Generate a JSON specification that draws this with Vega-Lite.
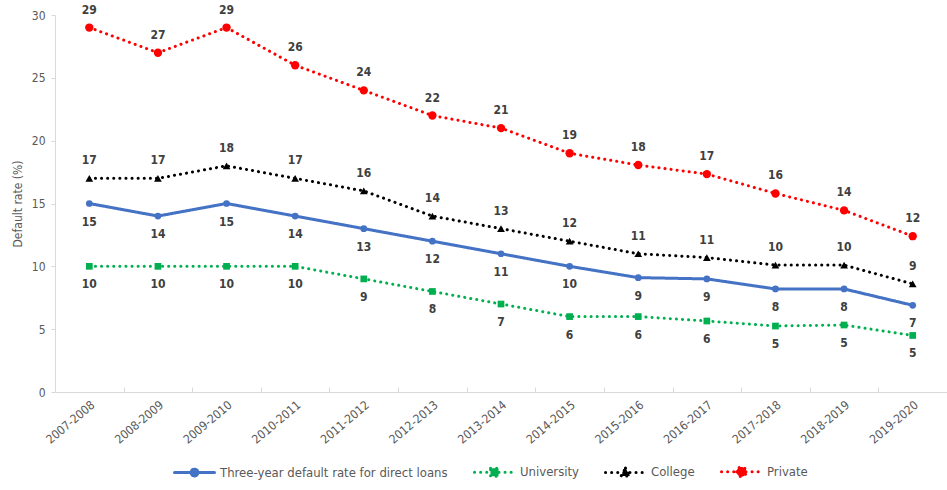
{
  "$schema": "https://vega.github.io/schema/vega-lite/v6.json",
  "width": 892,
  "height": 377,
  "autosize": "none",
  "padding": {"left": 55, "top": 15, "right": 0, "bottom": 98},
  "background": "white",
  "config": {
    "view": {"stroke": null},
    "font": "DejaVu Sans Condensed, Liberation Sans, sans-serif"
  },
  "data": {
    "values": [
      {"year": "2007-2008", "series": "Three-year default rate for direct loans", "value": 15},
      {"year": "2008-2009", "series": "Three-year default rate for direct loans", "value": 14},
      {"year": "2009-2010", "series": "Three-year default rate for direct loans", "value": 15},
      {"year": "2010-2011", "series": "Three-year default rate for direct loans", "value": 14},
      {"year": "2011-2012", "series": "Three-year default rate for direct loans", "value": 13},
      {"year": "2012-2013", "series": "Three-year default rate for direct loans", "value": 12},
      {"year": "2013-2014", "series": "Three-year default rate for direct loans", "value": 11},
      {"year": "2014-2015", "series": "Three-year default rate for direct loans", "value": 10},
      {"year": "2015-2016", "series": "Three-year default rate for direct loans", "value": 9.1},
      {"year": "2016-2017", "series": "Three-year default rate for direct loans", "value": 9.0},
      {"year": "2017-2018", "series": "Three-year default rate for direct loans", "value": 8.2},
      {"year": "2018-2019", "series": "Three-year default rate for direct loans", "value": 8.2},
      {"year": "2019-2020", "series": "Three-year default rate for direct loans", "value": 6.9},
      {"year": "2007-2008", "series": "University", "value": 10},
      {"year": "2008-2009", "series": "University", "value": 10},
      {"year": "2009-2010", "series": "University", "value": 10},
      {"year": "2010-2011", "series": "University", "value": 10},
      {"year": "2011-2012", "series": "University", "value": 9},
      {"year": "2012-2013", "series": "University", "value": 8},
      {"year": "2013-2014", "series": "University", "value": 7},
      {"year": "2014-2015", "series": "University", "value": 6},
      {"year": "2015-2016", "series": "University", "value": 6},
      {"year": "2016-2017", "series": "University", "value": 5.65},
      {"year": "2017-2018", "series": "University", "value": 5.25},
      {"year": "2018-2019", "series": "University", "value": 5.33},
      {"year": "2019-2020", "series": "University", "value": 4.5},
      {"year": "2007-2008", "series": "College", "value": 17},
      {"year": "2008-2009", "series": "College", "value": 17},
      {"year": "2009-2010", "series": "College", "value": 18},
      {"year": "2010-2011", "series": "College", "value": 17},
      {"year": "2011-2012", "series": "College", "value": 16},
      {"year": "2012-2013", "series": "College", "value": 14},
      {"year": "2013-2014", "series": "College", "value": 13},
      {"year": "2014-2015", "series": "College", "value": 12},
      {"year": "2015-2016", "series": "College", "value": 11},
      {"year": "2016-2017", "series": "College", "value": 10.7},
      {"year": "2017-2018", "series": "College", "value": 10.1},
      {"year": "2018-2019", "series": "College", "value": 10.1},
      {"year": "2019-2020", "series": "College", "value": 8.6},
      {"year": "2007-2008", "series": "Private", "value": 29},
      {"year": "2008-2009", "series": "Private", "value": 27},
      {"year": "2009-2010", "series": "Private", "value": 29},
      {"year": "2010-2011", "series": "Private", "value": 26},
      {"year": "2011-2012", "series": "Private", "value": 24},
      {"year": "2012-2013", "series": "Private", "value": 22},
      {"year": "2013-2014", "series": "Private", "value": 21},
      {"year": "2014-2015", "series": "Private", "value": 19},
      {"year": "2015-2016", "series": "Private", "value": 18.06},
      {"year": "2016-2017", "series": "Private", "value": 17.34},
      {"year": "2017-2018", "series": "Private", "value": 15.8},
      {"year": "2018-2019", "series": "Private", "value": 14.45},
      {"year": "2019-2020", "series": "Private", "value": 12.4}
    ]
  },
  "encoding": {
    "x": {
      "field": "year",
      "type": "nominal",
      "sort": null,
      "scale": {"paddingInner": 0, "paddingOuter": 0},
      "axis": {
        "title": null,
        "labelAngle": -40,
        "labelFontSize": 12,
        "labelColor": "#595959",
        "labelAlign": "right",
        "labelBaseline": "top",
        "tickBand": "extent",
        "tickColor": "#d9d9d9",
        "tickSize": -5,
        "domainColor": "#d9d9d9",
        "labelPadding": 12
      }
    },
    "y": {
      "field": "value",
      "type": "quantitative",
      "scale": {"domain": [0, 30], "nice": false},
      "axis": {
        "title": "Default rate (%)",
        "titleFontWeight": "normal",
        "titleFontSize": 12,
        "titleColor": "#595959",
        "titlePadding": 7,
        "values": [0, 5, 10, 15, 20, 25, 30],
        "labelFontSize": 12,
        "labelColor": "#595959",
        "grid": false,
        "tickColor": "#d9d9d9",
        "tickSize": 4,
        "domainColor": "#d9d9d9",
        "labelPadding": 6
      }
    }
  },
  "layer": [
    {
      "mark": {"type": "line", "strokeWidth": 3, "strokeCap": "round"},
      "encoding": {
        "color": {
          "field": "series",
          "type": "nominal",
          "scale": {
            "domain": ["Three-year default rate for direct loans", "University", "College", "Private"],
            "range": ["#4472C4", "#00B050", "#000000", "#FF0000"]
          },
          "legend": {
            "title": null,
            "orient": "none",
            "legendX": 118,
            "legendY": 435,
            "direction": "horizontal",
            "labelFontSize": 13,
            "labelColor": "#595959",
            "symbolSize": 1600,
            "symbolStrokeWidth": 3,
            "columnPadding": 20,
            "labelOffset": 4,
            "labelLimit": 400,
            "encode": {
              "symbols": {
                "update": {
                  "shape": {"signal": "datum.value === 'University' ? 'M-1,0L1,0M-0.2,-0.2L0.2,-0.2L0.2,0.2L-0.2,0.2Z' : datum.value === 'College' ? 'M-1,0L1,0M0,-0.22L0.22,0.18L-0.22,0.18Z' : datum.value === 'Private' ? 'M-1,0L1,0M-0.24,0A0.24,0.24 0 1,0 0.24,0A0.24,0.24 0 1,0 -0.24,0Z' : 'M-1,0L1,0M-0.17,0A0.17,0.17 0 1,0 0.17,0A0.17,0.17 0 1,0 -0.17,0Z'"},
                  "size": {"value": 1600},
                  "fill": {"scale": "color", "field": "value"},
                  "stroke": {"scale": "color", "field": "value"},
                  "strokeWidth": {"value": 3},
                  "strokeCap": {"value": "round"},
                  "strokeDash": {"signal": "datum.value === 'Three-year default rate for direct loans' ? [1, 0] : [0.1, 6]"},
                  "opacity": {"value": 1},
                  "fillOpacity": {"value": 1}
                }
              }
            }
          }
        },
        "strokeDash": {
          "field": "series",
          "type": "nominal",
          "scale": {
            "domain": ["Three-year default rate for direct loans", "University", "College", "Private"],
            "range": [[1, 0], [0.1, 6], [0.1, 6], [0.1, 6]]
          },
          "legend": null
        }
      }
    },
    {
      "transform": [{"filter": "datum.series === 'Three-year default rate for direct loans'"}],
      "mark": {"type": "point", "filled": true, "opacity": 1, "shape": "circle", "size": 45},
      "encoding": {"color": {"field": "series", "type": "nominal", "legend": null}}
    },
    {
      "transform": [{"filter": "datum.series === 'University'"}],
      "mark": {"type": "point", "filled": true, "opacity": 1, "shape": "square", "size": 45},
      "encoding": {"color": {"field": "series", "type": "nominal", "legend": null}}
    },
    {
      "transform": [{"filter": "datum.series === 'College'"}],
      "mark": {"type": "point", "filled": true, "opacity": 1, "shape": "triangle-up", "size": 60},
      "encoding": {"color": {"field": "series", "type": "nominal", "legend": null}}
    },
    {
      "transform": [{"filter": "datum.series === 'Private'"}],
      "mark": {"type": "point", "filled": true, "opacity": 1, "shape": "circle", "size": 70},
      "encoding": {"color": {"field": "series", "type": "nominal", "legend": null}}
    },
    {
      "transform": [{"filter": "datum.series === 'Private' || datum.series === 'College'"}],
      "mark": {"type": "text", "dy": -18, "fontSize": 12, "fontWeight": "bold", "color": "#404040"},
      "encoding": {
        "text": {"field": "value", "type": "quantitative", "format": ".0f"}
      }
    },
    {
      "transform": [{"filter": "datum.series === 'University' || datum.series === 'Three-year default rate for direct loans'"}],
      "mark": {"type": "text", "dy": 18, "fontSize": 12, "fontWeight": "bold", "color": "#404040"},
      "encoding": {
        "text": {"field": "value", "type": "quantitative", "format": ".0f"}
      }
    }
  ]
}
